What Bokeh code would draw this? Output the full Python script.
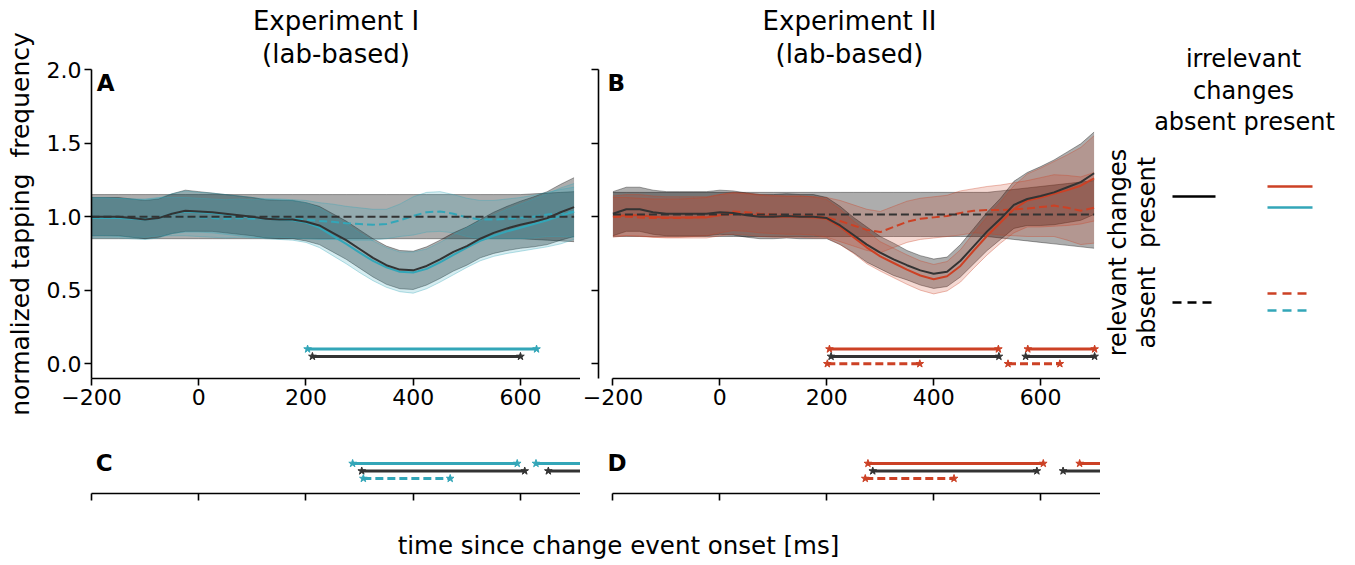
import numpy as np
from bokeh.plotting import figure
from bokeh.layouts import row, column
from bokeh.models import Range1d, FixedTicker, Title
from bokeh.core.properties import value
from bokeh.embed import file_html
from bokeh.resources import INLINE

# ---------------- data ----------------
t = [-200, -175, -150, -125, -100, -75, -50, -25, 0, 25, 50, 75, 100, 125, 150, 175,
     200, 225, 250, 275, 300, 325, 350, 375, 400, 425, 450, 475, 500, 525, 550, 575,
     600, 625, 650, 675, 700]

# Experiment I
exp1_rel = [1.00, 1.00, 1.00, 0.99, 0.98, 0.99, 1.02, 1.04, 1.035, 1.03, 1.02, 1.01, 1.00, 0.985, 0.98, 0.98,
            0.965, 0.94, 0.89, 0.84, 0.78, 0.72, 0.67, 0.64, 0.635, 0.665, 0.71, 0.76, 0.80, 0.85, 0.89, 0.92,
            0.945, 0.965, 0.99, 1.03, 1.065]
exp1_rel_sem = [0.13, 0.13, 0.13, 0.13, 0.13, 0.13, 0.135, 0.14, 0.135, 0.13, 0.13, 0.13, 0.13, 0.13, 0.13, 0.13,
                0.13, 0.13, 0.13, 0.13, 0.13, 0.13, 0.13, 0.13, 0.13, 0.13, 0.13, 0.13, 0.13, 0.13, 0.14, 0.15,
                0.16, 0.17, 0.18, 0.19, 0.20]
exp1_both = [0.99, 0.99, 0.99, 0.985, 0.98, 0.99, 1.02, 1.035, 1.03, 1.025, 1.015, 1.005, 0.995, 0.985, 0.98, 0.975,
             0.96, 0.925, 0.87, 0.815, 0.755, 0.70, 0.655, 0.625, 0.62, 0.645, 0.69, 0.74, 0.79, 0.835, 0.87, 0.90,
             0.925, 0.95, 0.975, 1.005, 1.035]
exp1_both_sem = [0.135, 0.135, 0.135, 0.135, 0.135, 0.135, 0.135, 0.14, 0.135, 0.135, 0.135, 0.135, 0.135, 0.135, 0.135, 0.135,
                 0.135, 0.135, 0.135, 0.135, 0.135, 0.135, 0.135, 0.135, 0.14, 0.135, 0.135, 0.135, 0.135, 0.135, 0.14, 0.15,
                 0.16, 0.17, 0.18, 0.19, 0.19]
exp1_irr = [1.00, 1.00, 0.995, 0.99, 0.99, 1.00, 1.00, 1.00, 0.995, 0.99, 0.985, 0.99, 0.985, 0.99, 0.99, 0.985,
            0.98, 0.97, 0.965, 0.955, 0.95, 0.945, 0.95, 0.975, 1.005, 1.03, 1.035, 1.02, 0.995, 0.98, 0.98, 0.985,
            0.99, 1.00, 1.015, 1.025, 1.03]
exp1_irr_sem = [0.13, 0.13, 0.13, 0.13, 0.13, 0.13, 0.13, 0.13, 0.13, 0.13, 0.13, 0.13, 0.13, 0.13, 0.13, 0.13,
                0.13, 0.125, 0.12, 0.115, 0.11, 0.105, 0.1, 0.11, 0.13, 0.135, 0.135, 0.13, 0.13, 0.13, 0.13, 0.135,
                0.14, 0.145, 0.15, 0.16, 0.17]
exp1_none = [1.0, 1.0, 1.0, 1.0, 1.0, 1.0, 1.0, 1.0, 1.0, 1.0, 1.0, 1.0, 1.0, 1.0, 1.0, 1.0,
             1.0, 1.0, 1.0, 1.0, 1.0, 1.0, 1.0, 1.0, 1.0, 1.0, 1.0, 1.0, 1.0, 1.0, 1.0, 1.0,
             1.0, 1.0, 1.0, 1.0, 1.0]
exp1_none_sem = [0.15, 0.15, 0.15, 0.15, 0.15, 0.15, 0.15, 0.15, 0.15, 0.15, 0.15, 0.15, 0.15, 0.15, 0.15, 0.15,
                 0.15, 0.15, 0.15, 0.15, 0.15, 0.15, 0.15, 0.15, 0.15, 0.15, 0.15, 0.15, 0.15, 0.15, 0.15, 0.15,
                 0.15, 0.155, 0.16, 0.165, 0.17]

# Experiment II
exp2_rel = [1.02, 1.05, 1.05, 1.03, 1.02, 1.02, 1.02, 1.02, 1.03, 1.025, 1.01, 1.00, 1.00, 1.005, 1.00, 1.00,
            0.99, 0.94, 0.875, 0.81, 0.755, 0.71, 0.67, 0.635, 0.612, 0.625, 0.70, 0.80, 0.90, 0.985, 1.08, 1.12,
            1.14, 1.165, 1.20, 1.235, 1.295]
exp2_rel_sem = [0.15, 0.15, 0.15, 0.15, 0.15, 0.15, 0.15, 0.15, 0.15, 0.15, 0.15, 0.15, 0.15, 0.15, 0.15, 0.15,
                0.14, 0.13, 0.12, 0.12, 0.11, 0.11, 0.10, 0.10, 0.10, 0.10, 0.11, 0.12, 0.13, 0.14, 0.16, 0.18,
                0.20, 0.22, 0.24, 0.26, 0.28]
exp2_both = [1.00, 1.01, 1.01, 1.00, 0.995, 0.995, 0.995, 0.995, 1.01, 1.02, 1.015, 1.005, 1.00, 1.00, 1.00, 0.995,
             0.985, 0.93, 0.86, 0.79, 0.73, 0.685, 0.64, 0.60, 0.575, 0.595, 0.665, 0.77, 0.87, 0.96, 1.05, 1.11,
             1.13, 1.155, 1.18, 1.21, 1.26]
exp2_both_sem = [0.14, 0.14, 0.14, 0.14, 0.14, 0.14, 0.14, 0.14, 0.14, 0.14, 0.14, 0.14, 0.14, 0.14, 0.14, 0.14,
                 0.13, 0.12, 0.11, 0.11, 0.10, 0.10, 0.10, 0.10, 0.10, 0.10, 0.11, 0.12, 0.13, 0.14, 0.16, 0.18,
                 0.20, 0.22, 0.24, 0.26, 0.29]
exp2_irr = [1.00, 1.00, 0.995, 0.99, 0.99, 0.99, 0.995, 1.00, 1.02, 1.035, 1.03, 1.02, 1.015, 1.01, 1.01, 1.005,
            0.995, 0.97, 0.94, 0.91, 0.895, 0.93, 0.965, 0.985, 0.995, 1.005, 1.025, 1.04, 1.045, 1.045, 1.05, 1.055,
            1.065, 1.075, 1.06, 1.04, 1.06]
exp2_irr_sem = [0.13, 0.13, 0.13, 0.13, 0.13, 0.13, 0.13, 0.13, 0.13, 0.13, 0.13, 0.13, 0.13, 0.13, 0.13, 0.13,
                0.135, 0.14, 0.14, 0.14, 0.14, 0.14, 0.14, 0.14, 0.14, 0.14, 0.15, 0.15, 0.16, 0.17, 0.18, 0.19,
                0.20, 0.21, 0.22, 0.23, 0.24]
exp2_none = [1.015, 1.015, 1.015, 1.015, 1.015, 1.015, 1.015, 1.015, 1.015, 1.015, 1.015, 1.015, 1.015, 1.015, 1.015, 1.015,
             1.015, 1.015, 1.015, 1.015, 1.015, 1.015, 1.015, 1.015, 1.015, 1.015, 1.015, 1.015, 1.015, 1.015, 1.015, 1.015,
             1.015, 1.015, 1.015, 1.015, 1.015]
exp2_none_sem = [0.15, 0.15, 0.15, 0.15, 0.15, 0.15, 0.15, 0.15, 0.15, 0.15, 0.15, 0.15, 0.15, 0.15, 0.15, 0.15,
                 0.15, 0.15, 0.15, 0.15, 0.15, 0.15, 0.15, 0.15, 0.15, 0.15, 0.15, 0.15, 0.15, 0.16, 0.17, 0.18,
                 0.19, 0.20, 0.21, 0.22, 0.23]

# significant clusters (start, end) in ms
A_sig_both_start, A_sig_both_end = [203], [630]
A_sig_rel_start, A_sig_rel_end = [212], [600]
B_sig_both_start, B_sig_both_end = [205, 576], [521, 701]
B_sig_rel_start, B_sig_rel_end = [208, 572], [522, 701]
B_sig_irr_start, B_sig_irr_end = [201, 539], [374, 636]
C_sig_both_start, C_sig_both_end = [287, 629], [594, 730]
C_sig_rel_start, C_sig_rel_end = [304, 652], [608, 730]
C_sig_irr_start, C_sig_irr_end = [307], [469]
D_sig_both_start, D_sig_both_end = [277, 673], [605, 730]
D_sig_rel_start, D_sig_rel_end = [286, 642], [593, 730]
D_sig_irr_start, D_sig_irr_end = [272], [438]

x_ticks = [-200, 0, 200, 400, 600]
y_ticks = [0, 0.5, 1, 1.5, 2]

# ---------------- style ----------------
FONT = "DejaVu Sans"
BLACK = "#333333"
CYAN = "#33a6b8"
RED = "#cc4125"
DASH = "8 4"
GRAY_A = 0.32
COL_A = 0.2


def style_axes(p, ylabels=True):
    p.grid.visible = False
    p.outline_line_color = None
    p.background_fill_color = "white"
    for ax in p.xaxis + p.yaxis:
        ax.axis_line_color = "black"
        ax.axis_line_width = 1.6
        ax.major_tick_line_color = "black"
        ax.major_tick_line_width = 1.6
        ax.major_tick_out = 7
        ax.major_tick_in = 0
        ax.minor_tick_line_color = None
        ax.major_label_text_font = FONT
        ax.major_label_text_font_size = "22px"
        ax.major_label_text_color = "black"
        ax.major_label_standoff = 3
    p.xaxis.ticker = FixedTicker(ticks=x_ticks)
    p.xaxis.major_label_overrides = {-200: "\u2212200"}
    p.yaxis.ticker = FixedTicker(ticks=y_ticks)
    p.yaxis.major_label_overrides = {0: "0.0", 0.5: "0.5", 1: "1.0", 1.5: "1.5", 2: "2.0"}
    if not ylabels:
        p.yaxis.major_label_overrides = {0: "", 0.5: "", 1: "", 1.5: "", 2: ""}
        p.yaxis.major_label_standoff = 0


def band(p, mean, sem, color, alpha):
    m = np.array(mean)
    s = np.array(sem)
    lo, hi = m - s, m + s
    p.varea(x=t, y1=lo, y2=hi, fill_color=color, fill_alpha=alpha)
    p.line(t, lo, line_color=color, line_alpha=0.35, line_width=1)
    p.line(t, hi, line_color=color, line_alpha=0.35, line_width=1)


def sig(p, starts, ends, y, color, dashed=False):
    ys = [y] * len(starts)
    kw = dict(line_dash=DASH) if dashed else {}
    p.segment(x0=starts, y0=ys, x1=ends, y1=ys, line_color=color, line_width=3, **kw)
    p.scatter(x=starts + ends, y=ys + ys, marker="star", size=8, fill_color=color,
              line_color=color)


def titles(p, l1):
    p.title.text = l1
    p.title.align = "center"
    p.title.text_font = FONT
    p.title.text_font_size = "26px"
    p.title.text_font_style = "normal"
    p.title.text_color = "black"
    p.title.standoff = 1
    p.add_layout(Title(text="(lab-based)", align="center", text_font=FONT, text_font_size="26px",
                       text_font_style="normal", text_color="black", standoff=1), "above")


def main_panel(width, xr, left, color, data, ylabels, letter, l1):
    rel, rel_sem, both, both_sem, irr, irr_sem, none, none_sem = data
    p = figure(width=width, height=420, x_range=xr, y_range=Range1d(-0.1, 2.0),
               output_backend="svg", toolbar_location=None, min_border_left=left,
               min_border_right=0, min_border_top=69, min_border_bottom=42)
    style_axes(p, ylabels)
    titles(p, l1)
    band(p, none, none_sem, "black", GRAY_A)
    band(p, rel, rel_sem, "black", GRAY_A)
    band(p, irr, irr_sem, color, COL_A)
    band(p, both, both_sem, color, COL_A)
    p.line(t, irr, line_color=color, line_width=2, line_dash=DASH)
    p.line(t, both, line_color=color, line_width=2)
    p.line(t, rel, line_color=BLACK, line_width=2)
    p.line(t, none, line_color=BLACK, line_width=2, line_dash=DASH)
    p.text(x=[xr.start + (10 if ylabels else 17)], y=[2.0], text=[letter], text_font=value(FONT),
           text_font_size="23px", text_font_style="bold", text_baseline="top", text_align="left")
    return p


xA = Range1d(-200, 712)
xB = Range1d(-227, 712)

pA = main_panel(580, xA, 91, CYAN,
                (exp1_rel, exp1_rel_sem, exp1_both, exp1_both_sem, exp1_irr, exp1_irr_sem,
                 exp1_none, exp1_none_sem), True, "A", "Experiment I")
pA.yaxis.axis_label = "normalized tapping\u00a0 frequency"
pA.yaxis.axis_label_text_font = FONT
pA.yaxis.axis_label_text_font_size = "25px"
pA.yaxis.axis_label_text_font_style = "normal"
pA.yaxis.axis_label_text_color = "black"
pA.yaxis.axis_label_standoff = 9
sig(pA, A_sig_both_start, A_sig_both_end, 0.10, CYAN)
sig(pA, A_sig_rel_start, A_sig_rel_end, 0.05, BLACK)

pB = main_panel(520, xB, 18, RED,
                (exp2_rel, exp2_rel_sem, exp2_both, exp2_both_sem, exp2_irr, exp2_irr_sem,
                 exp2_none, exp2_none_sem), False, "B", "Experiment II")
pB.xaxis.bounds = (-200, 712)
sig(pB, B_sig_both_start, B_sig_both_end, 0.10, RED)
sig(pB, B_sig_rel_start, B_sig_rel_end, 0.05, BLACK)
sig(pB, B_sig_irr_start, B_sig_irr_end, 0.0, RED, dashed=True)


def strip_panel(width, xr, left, color, sb, sr, si, letter, lx):
    p = figure(width=width, height=90, x_range=xr, y_range=Range1d(-2, 3.73),
               output_backend="svg", toolbar_location=None, min_border_left=left,
               min_border_right=0, min_border_top=30, min_border_bottom=17)
    style_axes(p)
    p.yaxis.visible = False
    p.xaxis.major_label_overrides = {-200: "", 0: "", 200: "", 400: "", 600: ""}
    p.xaxis.major_label_standoff = 0
    p.xaxis.bounds = (-200, 712)
    sig(p, sb[0], sb[1], 2, color)
    sig(p, sr[0], sr[1], 1, BLACK)
    sig(p, si[0], si[1], 0, color, dashed=True)
    p.text(x=[lx], y=[2], text=[letter], text_font=value(FONT), text_font_size="23px",
           text_font_style="bold", text_baseline="middle", text_align="left")
    return p


pC = strip_panel(580, xA, 91, CYAN, (C_sig_both_start, C_sig_both_end),
                 (C_sig_rel_start, C_sig_rel_end), (C_sig_irr_start, C_sig_irr_end), "C", -192)
pD = strip_panel(520, xB, 18, RED, (D_sig_both_start, D_sig_both_end),
                 (D_sig_rel_start, D_sig_rel_end), (D_sig_irr_start, D_sig_irr_end), "D", -210)

tk = dict(text_font=value(FONT), text_font_size="24px", text_align="center",
          text_baseline="middle", text_color="black")

# ---------------- x label ----------------
lf = figure(width=1100, height=55, x_range=Range1d(0, 1100), y_range=Range1d(55, 0),
            output_backend="svg", toolbar_location=None, min_border=0)
lf.axis.visible = False
lf.grid.visible = False
lf.outline_line_color = None
lf.text(x=[618], y=[35], text=["time since change event onset [ms]"],
        **dict(tk, text_font_size="24.5px"))

# ---------------- legend matrix (page-like coordinates) ----------------
lg = figure(width=255, height=565, x_range=Range1d(0, 255), y_range=Range1d(565, 0),
            output_backend="svg", toolbar_location=None, min_border=0)
lg.axis.visible = False
lg.grid.visible = False
lg.outline_line_color = None
lg.text(x=[143, 143, 144], y=[58, 90, 121], text=["irrelevant", "changes", "absent present"], **tk)
lg.text(x=[17], y=[252], text=["relevant changes"], angle=np.pi / 2, **tk)
lg.text(x=[46, 46], y=[202, 307], text=["present", "absent"], angle=np.pi / 2, **tk)
lg.line([72, 115], [196, 196], line_color="black", line_width=2.5)
lg.line([167, 212], [186, 186], line_color=RED, line_width=2.5)
lg.line([167, 212], [207, 207], line_color=CYAN, line_width=2.5)
lg.line([72, 115], [302, 302], line_color="black", line_width=2.5, line_dash="9 6")
lg.line([167, 212], [293, 293], line_color=RED, line_width=2.5, line_dash="9 6")
lg.line([167, 212], [310, 310], line_color=CYAN, line_width=2.5, line_dash="9 6")

layout = row(column(row(pA, pB), row(pC, pD), lf), lg)
open("out.html", "w").write(file_html(layout, INLINE))
